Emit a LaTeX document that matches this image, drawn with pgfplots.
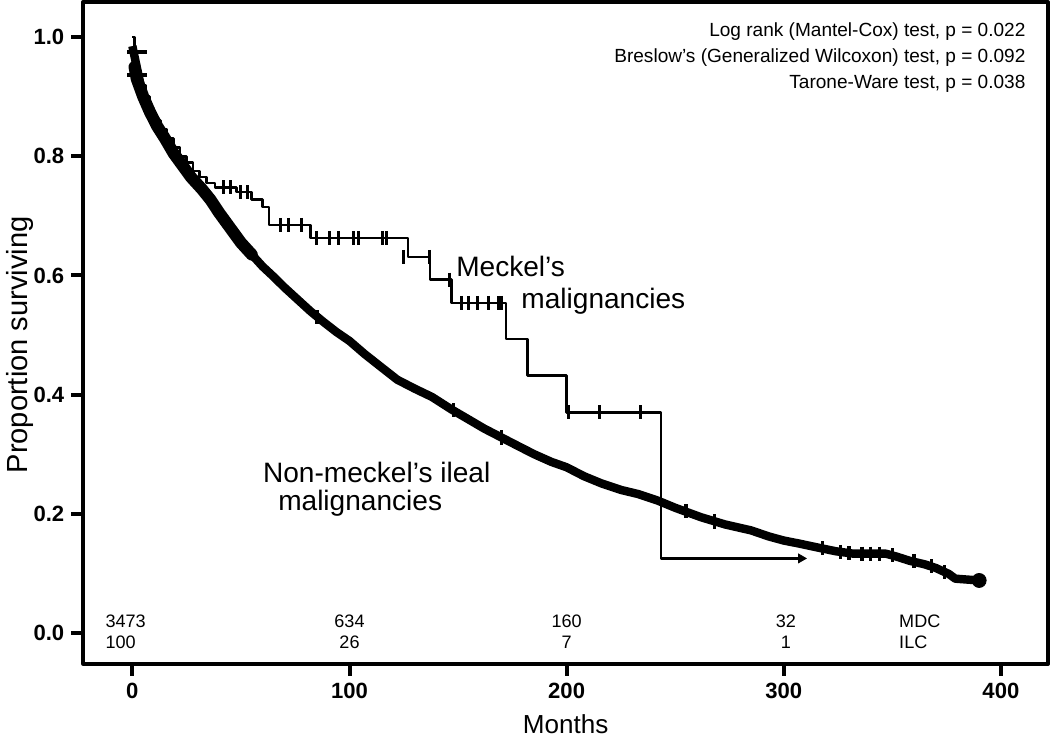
\documentclass[border=0pt]{standalone}
\usepackage{fontspec}
\setmainfont{Liberation Sans}
\usepackage{pgfplots}
\pgfplotsset{compat=1.18}
\begin{document}
\begin{tikzpicture}
\begin{axis}[
  scale only axis, width=481pt, height=330pt,
  xmin=-22.6, xmax=421.7, ymin=-0.052, ymax=1.059,
  axis line style={line width=2pt, line join=round},
  xtick={0,100,200,300,400},
  ytick={0,0.2,0.4,0.6,0.8,1.0},
  xtick pos=left, ytick pos=left,
  tick align=outside,
  major tick length=6pt,
  every tick/.style={black, line width=2pt},
  /pgf/number format/assume math mode=true,
  ticklabel style={font=\fontsize{11}{13}\selectfont\bfseries},
  yticklabel style={/pgf/number format/.cd, fixed, fixed zerofill, precision=1},
  xlabel={Months}, ylabel={Proportion surviving},
  xlabel style={font=\fontsize{13}{15}\selectfont, yshift=-1pt},
  ylabel style={font=\fontsize{14.5}{17}\selectfont, at={(ticklabel cs:0.482)}, anchor=south, yshift=-7pt},
]
% Non-Meckel's ileal malignancies
\addplot[black, line width=4.2pt, line join=round] coordinates {
(0,0.985) (2,0.95) (5,0.90) (8,0.87) (11.5,0.85) (15,0.83) (19,0.805) (23,0.785)
(27,0.765) (32,0.745) (36,0.727) (40,0.705) (45,0.68) (50,0.655) (55,0.635)
(60,0.615) (65,0.598) (70,0.58) (76,0.56) (82,0.54) (88,0.522) (94,0.505)
(100,0.49) (107,0.468) (115,0.445) (122,0.425) (130,0.41) (138,0.396) (147,0.375)
(155,0.358) (162,0.343) (170,0.328) (178,0.313) (185,0.300) (193,0.287) (200,0.278)
(208,0.263) (216,0.251) (225,0.240) (233,0.233) (242,0.222) (250,0.210) (262,0.194)
(273,0.182) (285,0.172) (293,0.162) (300,0.155) (307,0.150) (316,0.143) (324,0.137)
(332,0.133) (347,0.133) (352,0.128) (358,0.121) (365,0.115) (370,0.109) (376,0.099)
(379,0.091) (390,0.088)
};
% denser early part of the same curve
\addplot[black, line width=6pt, line join=round, line cap=round] coordinates {
(1,0.95) (2,0.93) (5,0.90) (8,0.875) (11.5,0.85) (15,0.83) (19,0.805) (23,0.785)
(27,0.765) (32,0.745) (36,0.727) (40,0.705) (45,0.68) (50,0.655) (55,0.635)
};
% censor marks on non-Meckel curve
\addplot[only marks, black, mark=|, mark size=3.5pt, mark options={line width=1.6pt}] coordinates {
(30,0.755) (52,0.648) (85,0.53) (148,0.374) (170,0.328) (255,0.204) (268,0.187)
(318,0.142) (326,0.136) (330,0.134) (336,0.133) (340,0.133) (344,0.133) (350,0.13)
(360,0.12) (368,0.112) (374,0.102)
};
\addplot[only marks, black, mark=-, mark size=5pt, mark options={line width=2pt}] coordinates {
(2,0.975) (2,0.937)
};
\addplot[only marks, black, mark=*, mark size=3.5pt] coordinates {(390,0.088)};
% Meckel's malignancies
\addplot[black, line width=1.3pt, const plot, line join=round] coordinates {
(0,1.00) (1,0.96) (2,0.94) (4,0.92) (6,0.90) (8,0.88) (10,0.86) (13,0.845)
(16,0.83) (19,0.815) (22,0.80) (25,0.79) (28,0.775) (31,0.765) (34,0.755)
(38,0.748) (48,0.74) (55,0.727) (60,0.715) (63,0.685) (82,0.663) (127,0.631)
(137,0.593) (147,0.554) (172,0.493) (182,0.432) (200,0.370) (243.5,0.125) (309,0.125)
};
\addplot[only marks, black, mark=|, mark size=3.5pt, mark options={line width=1.5pt}] coordinates {
(42,0.748) (45,0.748) (50,0.74) (53,0.74) (68,0.685) (72,0.685) (78,0.685)
(85,0.663) (91,0.663) (95,0.663) (102,0.663) (104,0.663) (115,0.663) (117,0.663)
(125,0.631) (137,0.631) (146,0.593)
(151.5,0.554) (155,0.554) (159,0.554) (164,0.554) (168.6,0.554) (170,0.554)
(201,0.37) (215,0.37) (234,0.37)
};
\addplot[only marks, black, mark=triangle*, mark size=2.5pt, mark options={rotate=-90}] coordinates {(308,0.125)};
% annotations
\node[anchor=north east, align=right, inner sep=0pt, font=\fontsize{9.5}{13}\selectfont]
  at (rel axis cs:0.977,0.970)
  {Log rank (Mantel-Cox) test, p = 0.022\\Breslow's (Generalized Wilcoxon) test, p = 0.092\\Tarone-Ware test, p = 0.038};
\node[anchor=west, inner sep=0pt, font=\fontsize{14}{16}\selectfont] at (axis cs:149,0.615) {Meckel’s};
\node[anchor=west, inner sep=0pt, font=\fontsize{14}{16}\selectfont] at (axis cs:179,0.556) {malignancies};
\node[anchor=west, inner sep=0pt, font=\fontsize{14}{16}\selectfont] at (axis cs:60,0.27) {Non-meckel’s ileal};
\node[anchor=west, inner sep=0pt, font=\fontsize{14}{16}\selectfont] at (axis cs:67,0.217) {malignancies};
% numbers at risk
\begin{scope}[every node/.style={inner sep=0pt, font=\fontsize{9}{11}\selectfont}]
\node[anchor=west] at (axis cs:-12.5,0.020) {3473};
\node[anchor=west] at (axis cs:-12.5,-0.015) {100};
\node at (axis cs:100,0.020) {634};
\node at (axis cs:100,-0.015) {26};
\node at (axis cs:200,0.020) {160};
\node at (axis cs:200,-0.015) {7};
\node at (axis cs:301,0.020) {32};
\node at (axis cs:301,-0.015) {1};
\node[anchor=west] at (axis cs:353,0.020) {MDC};
\node[anchor=west] at (axis cs:353,-0.015) {ILC};
\end{scope}
\end{axis}
\end{tikzpicture}
\end{document}
